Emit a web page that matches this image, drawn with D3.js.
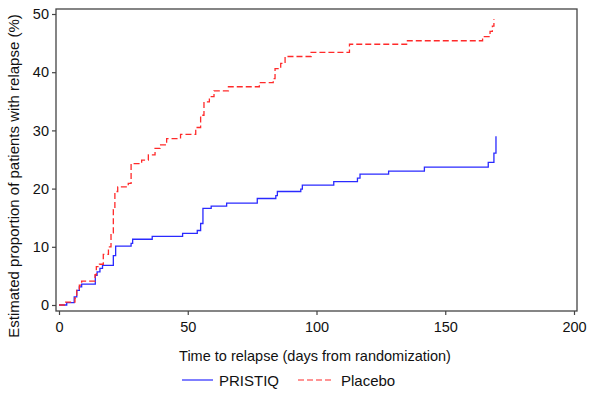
<!DOCTYPE html>
<html><head><meta charset="utf-8">
<script src="https://cdn.jsdelivr.net/npm/d3@7"></script>
<style>body{margin:0;background:#fff;} svg{display:block;font-family:"Liberation Sans",Arial,sans-serif;}</style>
</head><body>
<svg id="c" width="590" height="397"></svg>
<script>
// Kaplan-Meier style cumulative relapse (%), step points: time (days), value (%)
const pristiqTime  = [0,3.0,5.9,6.9,7.9,8.8,14.1,14.8,15.9,16.9,21.1,22.0,28.0,28.6,36.2,48.0,53.7,55.0,55.9,59.1,65.1,77.0,84.2,84.8,93.9,94.5,106.7,115.9,116.9,128.0,141.9,166.7,168.9,169.7];
const pristiqValue = [0,0.4,1.4,2.5,3.1,3.6,5.1,5.7,6.3,6.8,8.5,10.1,10.6,11.3,11.8,12.3,12.8,14.0,16.6,17.0,17.5,18.3,18.8,19.5,19.9,20.6,21.2,21.8,22.5,23.0,23.7,24.5,26.1,29.0];
const placeboTime  = [0,2.6,6.2,6.9,7.9,8.8,14.0,14.5,15.7,17.2,19.2,20.2,21.1,21.7,22.8,26.9,28.0,32.1,34.7,37.3,39.2,41.8,47.2,53.1,55.0,56.3,58.4,60.2,65.8,77.8,83.2,83.9,86.1,87.8,97.9,112.8,135.0,164.5,167.4,168.3,168.9];
const placeboValue = [0,0.5,1.2,2.7,3.4,4.1,5.2,6.6,7.0,8.7,10.0,12.4,16.4,19.5,20.3,20.9,24.3,24.9,25.8,26.9,27.5,28.6,29.3,30.5,32.6,34.9,35.8,36.8,37.5,38.2,38.9,40.6,41.5,42.7,43.4,44.8,45.4,46.1,47.0,47.9,49.1];
const xTicks = [0,50,100,150,200];
const yTicks = [0,10,20,30,40,50];
const seriesNames = ["PRISTIQ","Placebo"];
const xTitle = "Time to relapse (days from randomization)";
const yTitle = "Estimated proportion of patients with relapse (%)";

const svg = d3.select("#c");
const L = 56, R = 577, T = 9, B = 311;
const x = d3.scaleLinear().domain([0,200]).range([59,574]);
const y = d3.scaleLinear().domain([0,50]).range([305,14]);

svg.append("rect").attr("x",L).attr("y",T).attr("width",R-L).attr("height",B-T)
  .attr("fill","none").attr("stroke","#444").attr("stroke-width",1.3);

const xa = svg.append("g").attr("transform",`translate(0,${B})`)
  .call(d3.axisBottom(x).tickValues(xTicks).tickSize(4).tickPadding(7));
const ya = svg.append("g").attr("transform",`translate(${L},0)`)
  .call(d3.axisLeft(y).tickValues(yTicks).tickSize(4).tickPadding(3));
[xa,ya].forEach(a=>{
  a.select(".domain").remove();
  a.selectAll(".tick line").attr("stroke","#444").attr("stroke-width",1.2);
  a.selectAll(".tick text").attr("fill","#111").style("font-size","14.5px").style("font-family","Liberation Sans, Arial, sans-serif");
});

const line = d3.line().x(d=>x(d[0])).y(d=>y(d[1])).curve(d3.curveStepAfter);
const blue = "#2a2aff", red = "#ff2a2a";
svg.append("path").datum(d3.zip(pristiqTime,pristiqValue)).attr("d",line)
  .attr("fill","none").attr("stroke",blue).attr("stroke-width",1.3);
svg.append("path").datum(d3.zip(placeboTime,placeboValue)).attr("d",line)
  .attr("fill","none").attr("stroke",red).attr("stroke-width",1.3).attr("stroke-dasharray","6,3");

svg.append("text").attr("x",315).attr("y",361).attr("text-anchor","middle")
  .style("font-size","14.5px").attr("fill","#111").text(xTitle);
svg.append("text").attr("transform","translate(19,176) rotate(-90)").attr("text-anchor","middle")
  .style("font-size","15px").attr("fill","#111").text(yTitle);

// legend
svg.append("line").attr("x1",182).attr("x2",213).attr("y1",380).attr("y2",380).attr("stroke",blue).attr("stroke-width",1.2);
svg.append("text").attr("x",219).attr("y",385.5).style("font-size","15px").attr("fill","#111").text(seriesNames[0]);
svg.append("line").attr("x1",298).attr("x2",333).attr("y1",380).attr("y2",380).attr("stroke",red).attr("stroke-width",1.2).attr("stroke-dasharray","6,3");
svg.append("text").attr("x",341).attr("y",385.5).style("font-size","15px").attr("fill","#111").text(seriesNames[1]);
</script>
</body></html>
